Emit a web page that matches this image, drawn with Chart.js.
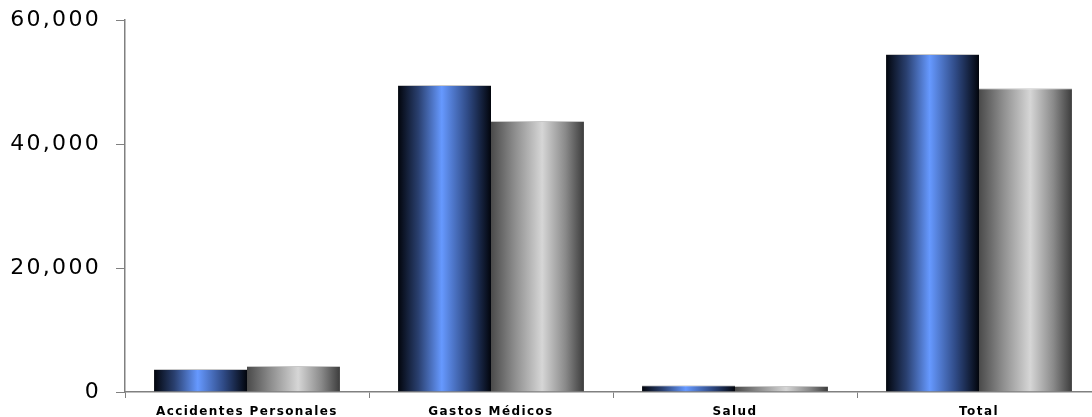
<!DOCTYPE html>
<html>
<head>
<meta charset="utf-8">
<script src="https://cdn.jsdelivr.net/npm/chart.js@4.4.0/dist/chart.umd.min.js"></script>
<style>
  html, body { margin: 0; padding: 0; background: #fff; overflow: hidden; }
  #wrap { width: 1110px; height: 417px; position: relative; }
</style>
</head>
<body>
<div id="wrap"><canvas id="c"></canvas></div>
<script>
const categories = ["Accidentes Personales", "Gastos Médicos", "Salud", "Total"];
const serie1 = [3700, 49500, 1100, 54500];
const serie2 = [4200, 43700, 950, 49000];
const yTicks = [0, 20000, 40000, 60000];

const gradStops = [
  [[0, '#02050c'], [0.22, '#2a4070'], [0.47, '#6699ff'], [0.75, '#2f4a85'], [1, '#02050c']],
  [[0, '#4a4a4a'], [0.25, '#8c8c8c'], [0.55, '#d6d6d6'], [0.8, '#8a8a8a'], [1, '#3c3c3c']]
];

const gradientPlugin = {
  id: 'barGradient',
  beforeDraw(chart) {
    const spacing = { x: '1.4px', y: '2.3px' };
    Object.keys(spacing).forEach(id => {
      const s = chart.scales[id];
      if (s && !s._lsWrapped) {
        const orig = s.drawLabels;
        s.drawLabels = function (area) {
          this.ctx.save();
          this.ctx.letterSpacing = spacing[id];
          orig.call(this, area);
          this.ctx.restore();
        };
        s._lsWrapped = true;
      }
    });
  },
  beforeDatasetDraw(chart, args) {
    const ctx = chart.ctx;
    const meta = args.meta;
    const stops = gradStops[args.index];
    meta.data.forEach(bar => {
      const w = bar.width;
      const g = ctx.createLinearGradient(bar.x - w / 2, 0, bar.x + w / 2, 0);
      stops.forEach(s => g.addColorStop(s[0], s[1]));
      bar.options = Object.assign({}, bar.options, { backgroundColor: g });
    });
  }
};

new Chart(document.getElementById('c'), {
  type: 'bar',
  data: {
    labels: categories,
    datasets: [
      { label: 'Serie 1', data: serie1, backgroundColor: '#4a6fb5', borderColor: '#c8c8c8', borderWidth: { top: 1, left: 0, right: 0, bottom: 0 }, borderSkipped: 'bottom' },
      { label: 'Serie 2', data: serie2, backgroundColor: '#999999', borderColor: '#c8c8c8', borderWidth: { top: 1, left: 0, right: 0, bottom: 0 }, borderSkipped: 'bottom' }
    ]
  },
  options: {
    responsive: true,
    maintainAspectRatio: false,
    animation: false,
    layout: { padding: { top: 20, right: 9, left: 0, bottom: 0 } },
    plugins: { legend: { display: false }, tooltip: { enabled: false } },
    datasets: { bar: { categoryPercentage: 0.762, barPercentage: 1.0 } },
    scales: {
      x: {
        offset: true,
        grid: { display: true, drawOnChartArea: false, offset: true, tickLength: 6, color: '#808080' },
        border: { display: true, color: '#808080', width: 1.5 },
        ticks: { color: '#000', font: { family: 'DejaVu Sans', size: 12, weight: 'bold' }, padding: 7, maxRotation: 0, autoSkip: false },
        afterFit(s) { s.height = 25; s.paddingLeft = 0; s.paddingRight = 0; }
      },
      y: {
        min: 0, max: 60000,
        afterBuildTicks(s) { s.ticks = yTicks.map(v => ({ value: v })); },
        grid: { display: true, drawOnChartArea: false, tickLength: 9, color: '#808080' },
        border: { display: true, color: '#808080', width: 1.5 },
        ticks: {
          color: '#000', font: { family: 'DejaVu Sans', size: 22 }, padding: 15,
          callback: v => v.toLocaleString('en-US')
        },
        afterFit(s) { s.width = 125; s.paddingTop = 0; s.paddingBottom = 0; }
      }
    }
  },
  plugins: [gradientPlugin]
});
</script>
</body>
</html>
